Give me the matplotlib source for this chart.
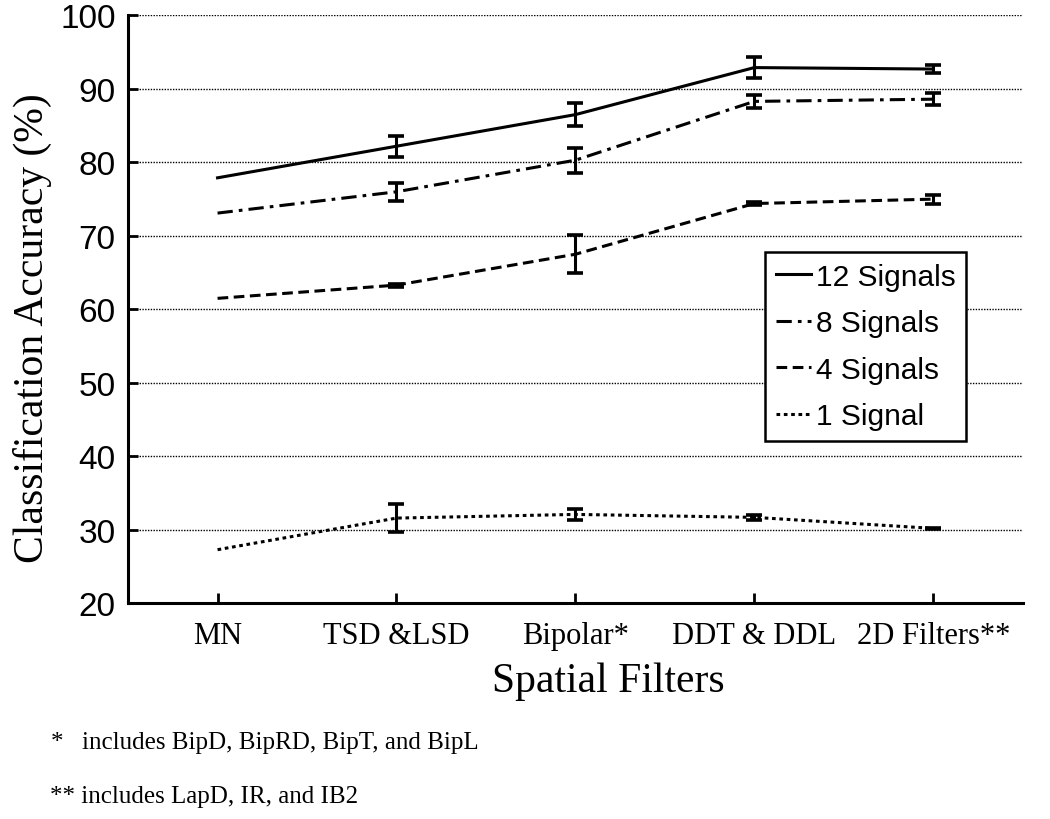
import matplotlib
matplotlib.use('Agg')
import matplotlib.pyplot as plt
import numpy as np

filters = ['MN', 'TSD &LSD', 'Bipolar*', 'DDT & DDL', '2D Filters**']
labels = ['12 Signals', '8 Signals', '4 Signals', '1 Signal']
acc12 = [77.9, 82.2, 86.5, 92.9, 92.7]
err12 = [0.0, 1.4, 1.6, 1.4, 0.6]
acc8 = [73.1, 76.0, 80.3, 88.3, 88.6]
err8 = [0.0, 1.2, 1.7, 0.9, 0.8]
acc4 = [61.5, 63.3, 67.5, 74.4, 75.0]
err4 = [0.0, 0.2, 2.6, 0.2, 0.6]
acc1 = [27.3, 31.6, 32.1, 31.7, 30.2]
err1 = [0.0, 1.9, 0.7, 0.3, 0.1]

serif = 'Liberation Serif'
sans = 'Liberation Sans'

fig = plt.figure(figsize=(10.5, 8.2), dpi=100)
ax = fig.add_axes([0.122, 0.263, 0.852, 0.717])

x = np.arange(1, len(filters) + 1)
styles = ['-', (0, (5, 2, 1.2, 2)), (0, (3.5, 1.8)), (0, (1.2, 1.2))]
series = [(acc12, err12), (acc8, err8), (acc4, err4), (acc1, err1)]
for (vals, errs), ls, lab in zip(series, styles, labels):
    ax.plot(x, vals, color='black', lw=2.2, linestyle=ls, label=lab)
    # MN has no error bar in the original
    ax.errorbar(x[1:], vals[1:], yerr=errs[1:], fmt='none', ecolor='black',
                elinewidth=2.2, capsize=6, capthick=2.6)

ax.set_xlim(0.5, 5.5)
ax.set_ylim(20, 100)
ax.set_yticks(range(20, 101, 10))
ax.set_xticks(x)
ax.set_xticklabels(filters, fontfamily=serif, fontsize=22)
for t in ax.get_yticklabels():
    t.set_fontfamily(sans)
    t.set_fontsize(24)
ax.tick_params(direction='in', length=7, width=2, color='black')
ax.tick_params(axis='x', pad=13)
ax.tick_params(axis='y', pad=9)

for v in range(30, 101, 10):
    ax.axhline(v, color='black', lw=1.0, linestyle=(0, (1, 1)), zorder=0)

for s in ['top', 'right']:
    ax.spines[s].set_visible(False)
for s in ['left', 'bottom']:
    ax.spines[s].set_linewidth(2.2)

ax.set_ylabel('Classification Accuracy (%)', fontfamily=serif, fontsize=30)
ax.yaxis.set_label_coords(-0.085, 0.47)
fig.text(0.579, 0.169, 'Spatial Filters', fontfamily=serif, fontsize=30,
         ha='center', va='center')

leg = ax.legend(loc='upper left', bbox_to_anchor=(0.712, 0.597), prop={'family': sans, 'size': 21.5},
                frameon=True, fancybox=False, edgecolor='black', framealpha=1,
                handlelength=1.2, handletextpad=0.15, borderpad=0.35, labelspacing=0.62,
                borderaxespad=0)
leg.get_frame().set_linewidth(1.8)

fig.text(0.048, 0.094, '*', fontfamily=serif, fontsize=18, va='center')
fig.text(0.078, 0.094, 'includes BipD, BipRD, BipT, and BipL', fontfamily=serif, fontsize=18, va='center')
fig.text(0.048, 0.028, '** includes LapD, IR, and IB2', fontfamily=serif, fontsize=18, va='center')

fig.savefig('out.png', dpi=100)
